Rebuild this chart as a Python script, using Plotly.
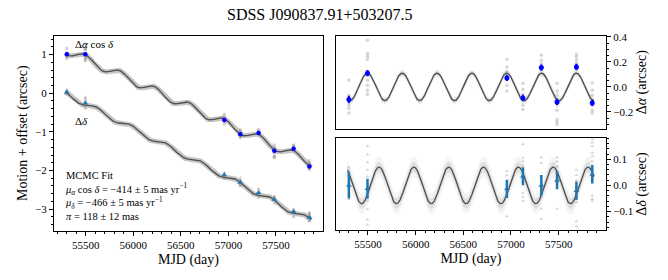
import numpy as np
import plotly.graph_objects as go

# ---------------- data ----------------
epochs = [55300, 55495, 56957, 57125, 57318, 57483, 57686, 57852]

# left panel: epoch means (motion + offset, arcsec)
left_ra = [1.01, 1.01, -0.69, -1.06, -1.03, -1.49, -1.44, -1.90]
left_dec = [0.02, -0.26, -2.12, -2.31, -2.58, -2.75, -3.07, -3.22]

# right panels: epoch-mean residuals after proper motion (arcsec)
res_ra = [-0.100, 0.110, 0.072, -0.088, 0.155, -0.120, 0.160, -0.128]
res_ra_err = [0.030, 0.025, 0.025, 0.025, 0.025, 0.025, 0.025, 0.025]
res_dec = [0.000, -0.013, -0.013, 0.035, 0.000, 0.020, -0.020, 0.042]
res_dec_err = [0.050, 0.038, 0.035, 0.034, 0.040, 0.035, 0.035, 0.035]

# individual exposures (residuals, arcsec), one list per epoch
indiv_ra = [
    [0.054, -0.066, -0.106, -0.146, -0.173, -0.208],
    [0.374, 0.267, 0.246, 0.222, 0.112, 0.054, 0.014, -0.026, -0.058],
    [0.219, 0.160, 0.120, 0.014, -0.032],
    [0.027, -0.021, -0.058, -0.106, -0.146, -0.181],
    [0.254, 0.214, 0.187, 0.139],
    [0.027, -0.032, -0.066, -0.101, -0.146, -0.186, -0.261, -0.280, -0.300],
    [0.262, 0.240, 0.214, 0.187, 0.139],
    [0.032, -0.026, -0.066, -0.106, -0.146, -0.186, -0.208],
]
indiv_dec = [
    [0.068, 0.055, 0.039, 0.007, -0.033, -0.052],
    [0.150, 0.118, 0.088, 0.059, 0.033, 0.007, -0.059, -0.091, -0.131, -0.150],
    [0.055, 0.039, 0.007, -0.020, -0.045, -0.118],
    [0.157, 0.105, 0.092, 0.076, 0.059, 0.013, -0.029, -0.045, -0.059],
    [0.107, 0.085, 0.033, 0.007, -0.045, -0.089, -0.128],
    [0.107, 0.092, 0.072, 0.046, 0.013, -0.089],
    [0.059, 0.039, 0.020, -0.006, -0.033, -0.052, -0.065, -0.137, -0.157],
    [0.176, 0.164, 0.150, 0.124, 0.111, 0.092, 0.076, 0.059, 0.020, -0.039, -0.052, -0.059],
]

# MCMC fit parameters (model curve), drawn over the observed span
MU_RA = -0.414      # arcsec / yr
MU_DEC = -0.466     # arcsec / yr
RA0 = 1.11
DEC0 = -0.03
T0 = 55300
AMP_RA = 0.11
AMP_DEC = 0.07
PEAK_RA = 55494
PEAK_DEC = 55616
YEAR = 365.25
MODEL_SPAN = [55285, 57870]

title_text = "SDSS J090837.91+503207.5"
fit_lines = [
    "MCMC Fit",
    "<i>μ</i><sub><i>α</i></sub> cos <i>δ</i> = −414 ± 5 mas yr<sup>−1</sup>",
    "<i>μ</i><sub><i>δ</i></sub> = −466 ± 5 mas yr<sup>−1</sup>",
    "<i>π</i> = 118 ± 12 mas",
]

# ---------------- model ----------------
t = np.linspace(MODEL_SPAN[0], MODEL_SPAN[1], 1500)
par_ra = AMP_RA * np.cos(2 * np.pi * (t - PEAK_RA) / YEAR)
par_dec = AMP_DEC * np.cos(2 * np.pi * (t - PEAK_DEC) / YEAR)
mod_ra = RA0 + MU_RA * (t - T0) / YEAR + par_ra
mod_dec = DEC0 + MU_DEC * (t - T0) / YEAR + par_dec

# individual points on left panel: shifted by each epoch's mean offset
lx_ra, ly_ra, lx_dec, ly_dec = [], [], [], []
rx_ra, ry_ra, rx_dec, ry_dec = [], [], [], []
for i, e in enumerate(epochs):
    for v in indiv_ra[i]:
        rx_ra.append(e); ry_ra.append(v)
        lx_ra.append(e); ly_ra.append(left_ra[i] + v - res_ra[i])
    for v in indiv_dec[i]:
        rx_dec.append(e); ry_dec.append(v)
        lx_dec.append(e); ly_dec.append(left_dec[i] + v - res_dec[i])

GREY = "rgba(120,120,120,0.3)"
BLUE = "#0000ff"
TAB = "#1f77b4"
LINE = "#4d4d4d"

fig = go.Figure()

# ---- left panel ----
for y in (mod_ra, mod_dec):
    fig.add_trace(go.Scatter(x=t, y=y, mode="lines", line=dict(color="rgba(150,150,150,0.55)", width=5),
                             hoverinfo="skip", xaxis="x", yaxis="y"))
    fig.add_trace(go.Scatter(x=t, y=y, mode="lines", line=dict(color=LINE, width=1.3),
                             hoverinfo="skip", xaxis="x", yaxis="y"))
fig.add_trace(go.Scatter(x=lx_ra, y=ly_ra, mode="markers", marker=dict(color=GREY, size=3.5),
                         xaxis="x", yaxis="y"))
fig.add_trace(go.Scatter(x=lx_dec, y=ly_dec, mode="markers",
                         marker=dict(color=GREY, size=3.5, symbol="triangle-up"), xaxis="x", yaxis="y"))
fig.add_trace(go.Scatter(x=epochs, y=left_ra, mode="markers", marker=dict(color=BLUE, size=4.5),
                         xaxis="x", yaxis="y"))
fig.add_trace(go.Scatter(x=epochs, y=left_dec, mode="markers",
                         marker=dict(color=TAB, size=5, symbol="triangle-up"), xaxis="x", yaxis="y"))

# ---- right panels ----
def band(x, y, w, color, xa, ya):
    fig.add_trace(go.Scatter(x=x, y=y + w, mode="lines", line=dict(width=0), hoverinfo="skip",
                             xaxis=xa, yaxis=ya))
    fig.add_trace(go.Scatter(x=x, y=y - w, mode="lines", line=dict(width=0), fill="tonexty",
                             fillcolor=color, hoverinfo="skip", xaxis=xa, yaxis=ya))

band(t, par_ra, 0.03, "rgba(170,170,170,0.15)", "x2", "y2")
band(t, par_ra, 0.016, "rgba(140,140,140,0.3)", "x2", "y2")
fig.add_trace(go.Scatter(x=t, y=par_ra, mode="lines", line=dict(color=LINE, width=1.3),
                         hoverinfo="skip", xaxis="x2", yaxis="y2"))
fig.add_trace(go.Scatter(x=rx_ra, y=ry_ra, mode="markers", marker=dict(color=GREY, size=3.5),
                         xaxis="x2", yaxis="y2"))
fig.add_trace(go.Scatter(x=epochs, y=res_ra, mode="markers", marker=dict(color=BLUE, size=5),
                         error_y=dict(type="data", array=res_ra_err, color=BLUE, thickness=2, width=0),
                         xaxis="x2", yaxis="y2"))

band(t, par_dec, 0.04, "rgba(180,180,180,0.15)", "x3", "y3")
band(t, par_dec, 0.02, "rgba(150,150,150,0.22)", "x3", "y3")
fig.add_trace(go.Scatter(x=t, y=par_dec, mode="lines", line=dict(color=LINE, width=1.3),
                         hoverinfo="skip", xaxis="x3", yaxis="y3"))
fig.add_trace(go.Scatter(x=rx_dec, y=ry_dec, mode="markers",
                         marker=dict(color=GREY, size=3.5, symbol="triangle-up"), xaxis="x3", yaxis="y3"))
fig.add_trace(go.Scatter(x=epochs, y=res_dec, mode="markers",
                         marker=dict(color=TAB, size=5, symbol="triangle-up"),
                         error_y=dict(type="data", array=res_dec_err, color=TAB, thickness=2.5, width=0),
                         xaxis="x3", yaxis="y3"))

# ---------------- layout ----------------
FONT = "Liberation Serif"
XR = [55165, 57995]

def xax(domain, show_labels, anchor, title=None):
    d = dict(domain=domain, range=XR, anchor=anchor, automargin=False, showline=True, linecolor="black",
             linewidth=1.2, mirror=True, showgrid=False, zeroline=False,
             ticks="outside" if show_labels else "",
             ticklen=4, tickcolor="black", dtick=500, tick0=55500, tickformat="d",
             showticklabels=show_labels, tickfont=dict(size=11, family=FONT),
             minor=dict(dtick=100, ticklen=2, ticks="outside" if show_labels else "", tickcolor="black"))
    if title:
        d["title"] = dict(text=title, font=dict(size=14, family=FONT), standoff=4)
    return d

def yax(domain, rng, dtick, mdtick, side, title, anchor, fmt):
    return dict(domain=domain, range=rng, side=side, anchor=anchor, automargin=False, showline=True,
                linecolor="black", linewidth=1.2, mirror=True, showgrid=False, zeroline=False,
                ticks="outside", ticklen=4, tickcolor="black", dtick=dtick, tick0=0,
                tickfont=dict(size=11, family=FONT), tickformat=fmt,
                minor=dict(dtick=mdtick, ticklen=2, ticks="outside", tickcolor="black"),
                title=dict(text=title, font=dict(size=14, family=FONT), standoff=4))

fig.update_layout(
    width=668, height=280, margin=dict(l=0, r=0, t=0, b=0, autoexpand=False),
    paper_bgcolor="white", plot_bgcolor="white", showlegend=False,
    font=dict(family=FONT, color="black", size=11),
    xaxis=xax([0.0808, 0.4835], True, "y", "MJD (day)"),
    yaxis=yax([0.176, 0.8725], [-3.56, 1.49], 1, 0.2, "left", "Motion + offset (arcsec)", "x", "d"),
    xaxis2=xax([0.503, 0.907], False, "y2"),
    yaxis2=yax([0.540, 0.8725], [-0.335, 0.41], 0.2, 0.05, "right", "Δ<i>α</i> (arcsec)", "x2", ".1f"),
    xaxis3=xax([0.503, 0.907], True, "y3", "MJD (day)"),
    yaxis3=yax([0.179, 0.506], [-0.17, 0.18], 0.1, 0.02, "right", "Δ<i>δ</i> (arcsec)", "x3", ".1f"),
)

ann = [
    dict(text=title_text, x=0.479, y=14, size=16, xanchor="center"),
    dict(text="Δ<i>α</i> cos <i>δ</i>", x=73 / 668, y=44, size=11, xanchor="left"),
    dict(text="Δ<i>δ</i>", x=73 / 668, y=121, size=11, xanchor="left"),
]
for a in ann:
    fig.add_annotation(text=a["text"], x=a["x"], y=1 - a["y"] / 280, xref="paper", yref="paper",
                       xanchor=a["xanchor"], yanchor="middle", showarrow=False,
                       font=dict(size=a["size"], family=FONT, color="black"))
fig.add_annotation(text="<br>".join(fit_lines), x=63 / 668, y=1 - 168 / 280, xref="paper", yref="paper",
                   xanchor="left", yanchor="top", align="left", showarrow=False,
                   font=dict(size=10.5, family=FONT, color="black"))

fig.write_html("out.html", config={"displayModeBar": False},
               post_script="document.body.style.margin='0';")
